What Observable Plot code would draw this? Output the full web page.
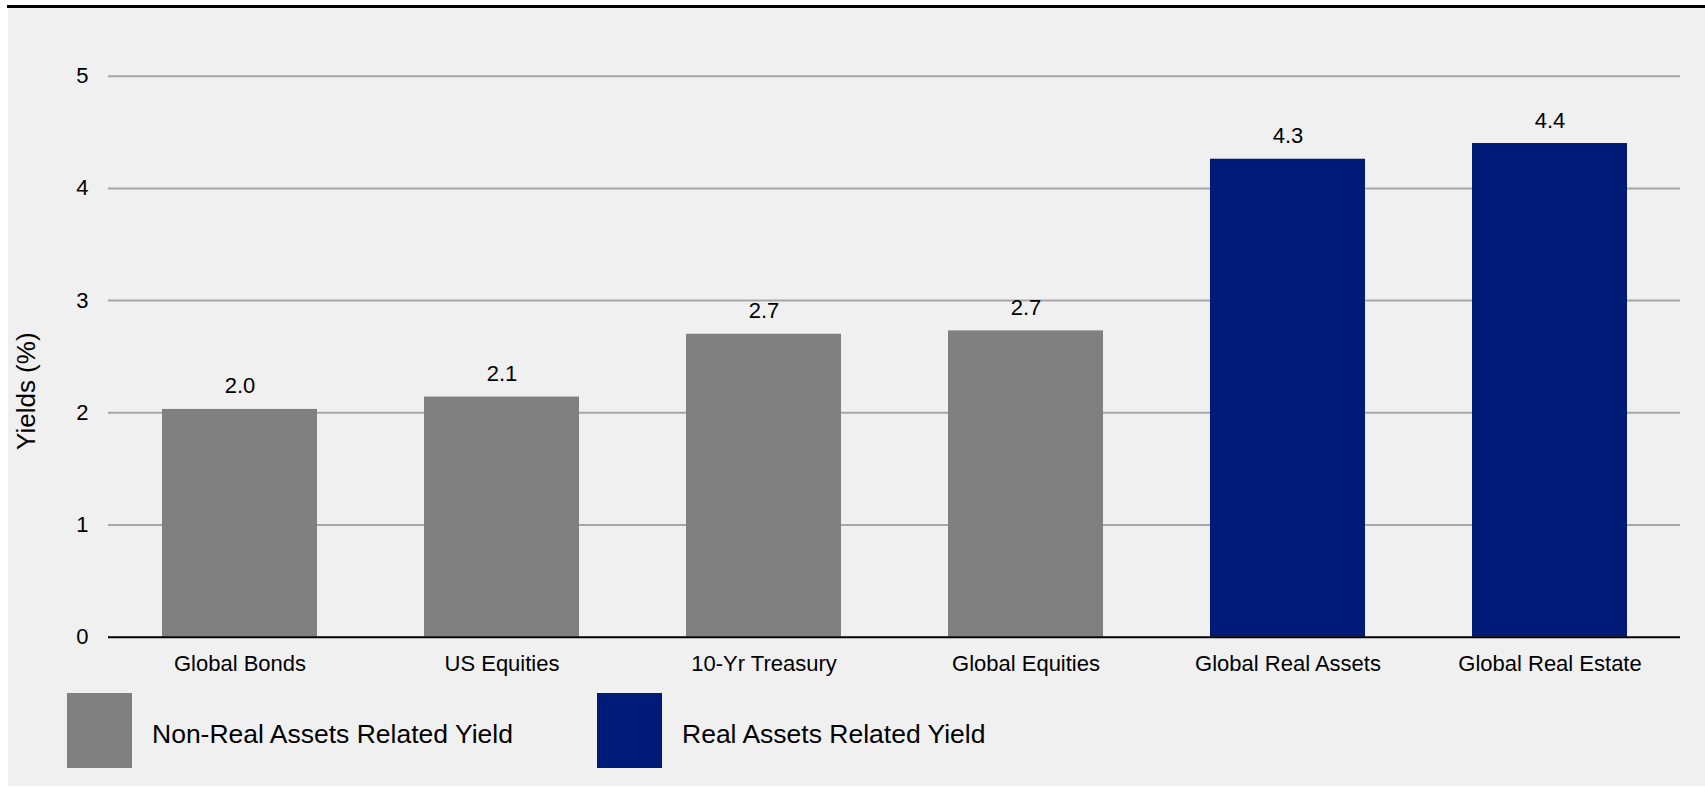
<!DOCTYPE html>
<html>
<head>
<meta charset="utf-8">
<script src="https://cdn.jsdelivr.net/npm/d3@7"></script>
<script src="https://cdn.jsdelivr.net/npm/@observablehq/plot@0.6"></script>
<style>
  html, body { margin: 0; padding: 0; background: #ffffff; }
  #page { position: relative; width: 1705px; height: 788px; overflow: hidden;
          font-family: Arial, "Liberation Sans", Helvetica, sans-serif; color: #000; }
  #bg { position: absolute; left: 8px; top: 8px; width: 1697px; height: 778px; background: #f0f0f0; }
  #topline { position: absolute; left: 7px; top: 5px; width: 1698px; height: 2.5px; background: #000; }
  #chart { position: absolute; left: 0; top: 0; width: 1705px; }
  #chart svg { display: block; }
  #legend { position: relative; width: 1705px; height: 98px; }
  .item { position: absolute; top: 3px; display: flex; align-items: center; height: 75px; }
  .swatch { width: 65px; height: 75px; }
  .label { margin-left: 20px; font-size: 26.5px; line-height: 26px; margin-top: 6px; }
</style>
</head>
<body>
<div id="page">
  <div id="bg"></div>
  <div id="topline"></div>
  <div id="chart"></div>
</div>
<script>
// ---- data ----
const categories = ["Global Bonds", "US Equities", "10-Yr Treasury", "Global Equities", "Global Real Assets", "Global Real Estate"];
const yields = [2.03, 2.14, 2.70, 2.73, 4.26, 4.40];
const groups = ["Non-Real Assets Related Yield", "Non-Real Assets Related Yield", "Non-Real Assets Related Yield", "Non-Real Assets Related Yield", "Real Assets Related Yield", "Real Assets Related Yield"];
const seriesNames = ["Non-Real Assets Related Yield", "Real Assets Related Yield"];
const seriesColors = ["#808080", "#001a78"];
const yTicks = [0, 1, 2, 3, 4, 5];
const yLabel = "Yields (%)";

const rows = categories.map((c, i) => ({category: c, value: yields[i], group: groups[i]}));
const fmt = d3.format(".1f");

const chart = Plot.plot({
  width: 1705,
  height: 690,
  marginLeft: 108,
  marginRight: 25,
  marginTop: 75.7,
  marginBottom: 53.3,
  style: {
    background: "transparent",
    fontFamily: "Arial, 'Liberation Sans', Helvetica, sans-serif",
    fontSize: "22px",
    color: "#000",
    overflow: "visible"
  },
  x: {domain: categories, paddingInner: 0.41, paddingOuter: 0.205, label: null},
  y: {domain: [0, 5], label: null},
  color: {domain: seriesNames, range: seriesColors},
  marks: [
    Plot.gridY(yTicks.filter(d => d !== 0), {stroke: "#a6a6a6", strokeOpacity: 1, strokeWidth: 2}),
    Plot.barY(rows, {x: "category", y: "value", fill: "group"}),
    Plot.ruleY([0], {stroke: "#000", strokeWidth: 2}),
    Plot.axisY({ticks: yTicks, tickSize: 0, tickPadding: 20, tickFormat: d => String(d), fontSize: 22, label: null}),
    Plot.axisX({tickSize: 0, tickPadding: 18, fontSize: 22, label: null}),
    Plot.text(rows, {x: "category", y: "value", text: d => fmt(d.value), dy: -23, fontSize: 22, fill: "#000"}),
    Plot.text([yLabel], {frameAnchor: "bottom-left", textAnchor: "middle", rotate: -90, dx: -74, dy: -246, fontSize: 26, fill: "#000"})
  ]
});

const container = document.getElementById("chart");
container.appendChild(chart);

// legend below the svg
const legend = document.createElement("div");
legend.id = "legend";
const legendLefts = [67, 597];
seriesNames.forEach((name, i) => {
  const item = document.createElement("div");
  item.className = "item";
  item.style.left = legendLefts[i] + "px";
  const sw = document.createElement("div");
  sw.className = "swatch";
  sw.style.background = seriesColors[i];
  const lb = document.createElement("div");
  lb.className = "label";
  lb.textContent = name;
  item.appendChild(sw);
  item.appendChild(lb);
  legend.appendChild(item);
});
container.appendChild(legend);
</script>
</body>
</html>
